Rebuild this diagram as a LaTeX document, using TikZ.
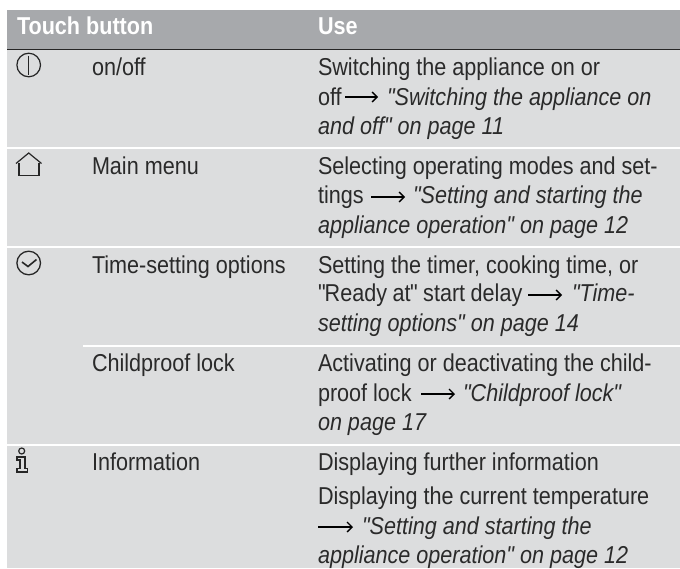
\documentclass[tikz,border=0pt]{standalone}
\usepackage{fontspec}
\usetikzlibrary{arrows.meta}
\newfontfamily\bodyfont[FakeStretch=0.885]{Liberation Sans}
\definecolor{headbg}{HTML}{A7A9AC}
\definecolor{rowbg}{HTML}{DCDDDE}
\definecolor{ink}{HTML}{2A2A2A}
\tikzset{
  x=1pt,y=-1pt,
  txt/.style={anchor=base west,inner sep=0pt,outer sep=0pt,text=ink,font=\bodyfont\fontsize{24.4}{29}\selectfont},
  ital/.style={txt,font=\bodyfont\fontsize{24.4}{29}\selectfont\itshape},
  headtxt/.style={anchor=base west,inner sep=0pt,outer sep=0pt,text=white,font=\bodyfont\fontsize{24.4}{29}\selectfont\bfseries},
  refarrow/.style={line width=1.3pt,black,-{Straight Barb[length=5pt,width=10pt,line width=1.3pt]}},
  icon/.style={line width=1.2pt,draw=black!85},
  sep/.style={draw=white,line width=2pt},
}
\begin{document}
\begin{tikzpicture}
\useasboundingbox (0,0) rectangle (680,568);
\fill[headbg] (7,10) rectangle (680,49);
\fill[rowbg] (7,49) rectangle (680,568);
\draw[black!85,line width=0.8pt] (7,49.5) -- (680,49.5);
\draw[sep] (7,147.5) -- (680,147.5);
\draw[sep] (7,246.5) -- (680,246.5);
\draw[sep] (83,345.5) -- (680,345.5);
\draw[sep] (7,444.5) -- (680,444.5);
% header
\node[headtxt] (h1) at (17,34) {Touch button};
\node[headtxt] (h2) at (318,34) {Use};
% column 2
\node[txt] (b1) at (92,75) {on/off};
\node[txt] (b2) at (92,174) {Main menu};
\node[txt] (b3) at (92,273) {Time-setting options};
\node[txt] (b4) at (92,371) {Childproof lock};
\node[txt] (b5) at (92,470) {Information};
% row 1
\node[txt] (u1a) at (318,75) {Switching the appliance on or};
\node[txt] (u1b) at (318,105) {off};
\coordinate (a1s) at (345,97); \coordinate (a1e) at (378,97);
\draw[refarrow] (a1s) -- (a1e);
\node[ital] (u1c) at (387,105) {"Switching the appliance on};
\node[ital] (u1d) at (318,134) {and off" on page 11};
% row 2
\node[txt] (u2a) at (318,174) {Selecting operating modes and set-};
\node[txt] (u2b) at (318,203) {tings};
\coordinate (a2s) at (371,197); \coordinate (a2e) at (405,197);
\draw[refarrow] (a2s) -- (a2e);
\node[ital] (u2c) at (413,203) {"Setting and starting the};
\node[ital] (u2d) at (318,233) {appliance operation" on page 12};
% row 3
\node[txt] (u3a) at (318,273) {Setting the timer, cooking time, or};
\node[txt] (u3b) at (318,301) {"\kern-1ptReady\kern-0.5pt\ at\kern-0.5pt"\kern-0.5pt\ start\kern-0.5pt\ delay};
\coordinate (a3s) at (528,295); \coordinate (a3e) at (562,295);
\draw[refarrow] (a3s) -- (a3e);
\node[ital] (u3c) at (572,301) {"Time-};
\node[ital] (u3d) at (318,331) {setting options" on page 14};
% row 4
\node[txt] (u4a) at (318,371) {Activating or deactivating the child-};
\node[txt] (u4b) at (318,401) {proof lock};
\coordinate (a4s) at (421,394); \coordinate (a4e) at (455,394);
\draw[refarrow] (a4s) -- (a4e);
\node[ital] (u4c) at (463,401) {"Childproof lock"};
\node[ital] (u4d) at (318,430) {on page 17};
% row 5
\node[txt] (u5a) at (318,470) {Displaying further information};
\node[txt] (u5b) at (318,504) {Displaying the current temperature};
\coordinate (a5s) at (318,527); \coordinate (a5e) at (353,527);
\draw[refarrow] (a5s) -- (a5e);
\node[ital] (u5c) at (362,534) {"Setting and starting the};
\node[ital] (u5d) at (318,563) {appliance operation" on page 12};
% on/off icon
\draw[icon] (28.7,65) circle (11.8);
\draw[icon,line width=1.5pt] (28.7,55.5) -- (28.7,74.5);
% home icon
\draw[icon] (19,163) -- (19,175.5) -- (39,175.5) -- (39,163);
\draw[icon] (16,163.5) -- (28.7,153) -- (41.5,163.5);
% clock icon
\draw[icon,line width=1.3pt] (28.7,263) circle (11.8);
\draw[icon,line width=1.6pt] (22,262) -- (28,266.5) -- (36.5,259.5);
% info icon
\draw[icon] (21.7,451) circle (3);
\draw[icon] (17,457) -- (25,457) -- (25,468.5) -- (27.5,468.5) -- (27.5,472) -- (17,472) -- (17,468.5) -- (20,468.5) -- (20,460) -- (17,460) -- cycle;
\end{tikzpicture}
\end{document}
